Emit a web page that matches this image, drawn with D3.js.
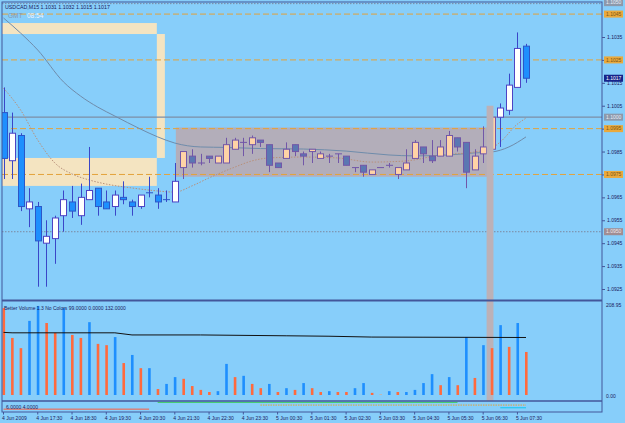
<!DOCTYPE html>
<html>
<head>
<meta charset="utf-8">
<script src="https://cdn.jsdelivr.net/npm/d3@7"></script>
<style>
  html, body { margin: 0; padding: 0; background: #87cefa; }
  svg { display: block; }
  text { font-family: "Liberation Sans", Arial, sans-serif; font-size: 5px; fill: #1b2060; }
</style>
</head>
<body>
<div id="chart"></div>
<script>
// USDCAD M15 candles, bar 0 = 4 Jun 2009 16:30
var opens = [
  1.1002,1.0981,1.0992,1.0960,1.0961,1.0945,1.0947,1.0957,1.0963,1.0957,
  1.0964,1.0969,1.0963,1.0961,1.0965,1.0963,1.0961,1.0967,1.0966,1.0964,
  1.0963,1.0978,1.0983,1.0980,1.0983,1.0980,1.0980,1.0986,1.0989,1.0988,
  1.0990,1.0988,1.0980,1.0982,1.0988,1.0984,1.0985,1.0982,1.0983,1.0984,
  1.0983,1.0978,1.0979,1.0975,1.0978,1.0979,1.0975,1.0977,1.0982,1.0987,
  1.0983,1.0983,1.0983,1.0991,1.0989,1.0977,1.0984,1.0986,1.1000,1.1003,
  1.1013,1.1031];
var highs = [
  1.1013,1.1002,1.0993,1.0969,1.0963,1.0955,1.0957,1.0968,1.0970,1.0971,
  1.0987,1.0969,1.0968,1.0968,1.0972,1.0964,1.0966,1.0974,1.0969,1.0968,
  1.0980,1.0985,1.0986,1.0984,1.0983,1.0983,1.0991,1.0991,1.0991,1.0992,
  1.0990,1.0988,1.0980,1.0989,1.0988,1.0985,1.0986,1.0985,1.0984,1.0984,
  1.0983,1.0978,1.0979,1.0977,1.0978,1.0980,1.0978,1.0986,1.0990,1.0987,
  1.0990,1.0990,1.0994,1.0991,1.0989,1.0986,1.0996,1.1000,1.1006,1.1019,
  1.1037,1.1032];
var lows = [
  1.0973,1.0973,1.0959,1.0952,1.0926,1.0926,1.0936,1.0950,1.0956,1.0953,
  1.0964,1.0957,1.0960,1.0957,1.0962,1.0957,1.0960,1.0965,1.0960,1.0963,
  1.0963,1.0973,1.0978,1.0979,1.0980,1.0980,1.0980,1.0986,1.0983,1.0984,
  1.0987,1.0976,1.0978,1.0982,1.0983,1.0979,1.0980,1.0982,1.0980,1.0980,
  1.0979,1.0976,1.0974,1.0975,1.0978,1.0978,1.0973,1.0977,1.0982,1.0980,
  1.0980,1.0983,1.0983,1.0985,1.0969,1.0977,1.0980,1.0984,1.0987,1.1001,
  1.1013,1.1015];
var closes = [
  1.0982,1.0993,1.0961,1.0963,1.0946,1.0948,1.0956,1.0964,1.0959,1.0965,
  1.0968,1.0961,1.0960,1.0966,1.0964,1.0961,1.0966,1.0967,1.0963,1.0964,
  1.0972,1.0985,1.0980,1.0980,1.0982,1.0983,1.0988,1.0990,1.0989,1.0991,
  1.0989,1.0979,1.0978,1.0986,1.0985,1.0983,1.0986,1.0984,1.0983,1.0984,
  1.0979,1.0978,1.0976,1.0977,1.0978,1.0979,1.0978,1.0980,1.0989,1.0984,
  1.0981,1.0987,1.0992,1.0987,1.0976,1.0983,1.0987,1.1000,1.1004,1.1014,
  1.1030,1.1017];

// Better Volume histogram
var volumes = [
  204,134,110,174,209,169,146,204,141,134,
  171,120,117,136,75,94,63,63,14,26,
  42,38,21,12,7,9,73,42,45,26,
  16,26,7,16,12,28,16,7,9,7,
  7,16,28,5,2,9,7,7,12,28,
  49,23,42,23,136,40,117,110,164,113,
  169,101];
var volKinds = [
  "o","o","o","b","b","o","o","b","o","o",
  "b","o","o","b","o","b","o","b","o","b",
  "b","o","o","o","o","b","b","o","b","o",
  "o","b","o","b","o","b","o","o","b","o",
  "o","b","b","o","g","b","o","b","b","b",
  "b","o","b","o","b","o","b","o","b","o",
  "b","o"];
var volMaBars = [0, 1, 13, 15, 23, 33, 38, 43, 61];
var volMaVals = [147, 146, 146, 141, 141, 139, 138, 136, 135];

// moving averages on price (read at a few bars)
var slowMaBars = [0, 2, 4, 7, 9, 11, 13, 16, 18, 20, 23, 26, 30, 35, 40, 45, 48, 52, 55, 57, 59, 61];
var slowMaVals = [1.10433, 1.10367, 1.10293, 1.10154, 1.10092, 1.10044, 1.10005, 1.09948, 1.09914, 1.09887,
                  1.09870, 1.09868, 1.09863, 1.09861, 1.09852, 1.09835, 1.09831, 1.09835, 1.09844, 1.09848,
                  1.09870, 1.09914];
var fastMaBars = [0, 2, 4, 6, 8, 10, 12, 15, 18, 20, 22, 24, 27, 29, 31, 35, 39, 43, 47, 51, 55, 57, 58, 60, 61];
var fastMaVals = [1.10127, 1.10031, 1.09900, 1.09800, 1.09752, 1.09726, 1.09708, 1.09691, 1.09678, 1.09673,
                  1.09700, 1.09735, 1.09782, 1.09809, 1.09822, 1.09826, 1.09822, 1.09804, 1.09809, 1.09835,
                  1.09848, 1.09865, 1.09892, 1.09970, 1.09996];

// levels and objects
var orangeLevels = [1.1045, 1.1025, 1.0995, 1.0975];
var grayLevel = 1.1000, grayDotLevel = 1.0950, topDotLevel = 1.1050;
var lastPrice = 1.1017;
var priceTicks = [1.1035, 1.1025, 1.1015, 1.1005, 1.0995, 1.0985, 1.0975, 1.0965, 1.0955, 1.0945, 1.0935, 1.0925];
var beigeZones = [
  {from: -1, to: 17.9, hi: 1.10411, lo: 1.10363},
  {from: 17.9, to: 18.84, hi: 1.10363, lo: 1.09822},
  {from: -1, to: 17.9, hi: 1.09822, lo: 1.09700}];
var grayZone = {from: 20.12, to: 56.5, hi: 1.09955, lo: 1.0974};
var band = {from: 56.4, to: 57.2, hi: 1.1005};

// time axis
var timeBars = [0, 4, 8, 12, 16, 20, 24, 28, 32, 36, 40, 44, 48, 52, 56, 60];
var timeLabels = ["4 Jun 2009", "4 Jun 17:30", "4 Jun 18:30", "4 Jun 19:30", "4 Jun 20:30", "4 Jun 21:30",
                  "4 Jun 22:30", "4 Jun 23:30", "5 Jun 00:30", "5 Jun 01:30", "5 Jun 02:30", "5 Jun 03:30",
                  "5 Jun 04:30", "5 Jun 05:30", "5 Jun 06:30", "5 Jun 07:30"];

// third small window lines
var subLines = [
  {from: 0, to: 17, level: 1, color: "#ff5a3c", dash: null},
  {from: 18, to: 53, level: 6, color: "#3ccc5a", dash: null},
  {from: 30, to: 61, level: 4, color: "#e8a030", dash: "1.5,1"},
  {from: 58, to: 61, level: 2, color: "#10c8f0", dash: null}];

var width = 625, height = 423;
var left = 2, right = 602, mainTop = 2, mainBot = 300, volTop = 301, volBot = 401, subBot = 412;

var svg = d3.select("#chart").append("svg")
    .attr("width", width)
    .attr("height", height);

svg.append("rect").attr("width", width).attr("height", height).attr("fill", "#87cefa");

var x = d3.scaleLinear().domain([0, 61]).range([3.5, 526]);
var y = d3.scaleLinear().domain([1.0925, 1.1035]).range([289, 37]);
var yv = d3.scaleLinear().domain([0, 208.95]).range([395, 306]);
var ys = d3.scaleLinear().domain([0, 7]).range([410.5, 401]);

var defs = svg.append("defs");
defs.append("clipPath").attr("id", "clipMain").append("rect")
    .attr("x", left).attr("y", mainTop).attr("width", right - left).attr("height", mainBot - mainTop);
defs.append("clipPath").attr("id", "clipAll").append("rect")
    .attr("x", left).attr("y", mainTop).attr("width", right - left).attr("height", volBot - mainTop);

var main = svg.append("g").attr("clip-path", "url(#clipMain)");

// beige rectangles
main.selectAll(".beige").data(beigeZones).enter().append("rect")
    .attr("class", "beige")
    .attr("x", function(d) { return x(d.from); })
    .attr("width", function(d) { return x(d.to) - x(d.from); })
    .attr("y", function(d) { return y(d.hi); })
    .attr("height", function(d) { return y(d.lo) - y(d.hi); })
    .attr("fill", "#f4e4c1");

// gray zone
main.append("rect")
    .attr("x", x(grayZone.from)).attr("width", x(grayZone.to) - x(grayZone.from))
    .attr("y", y(grayZone.hi)).attr("height", y(grayZone.lo) - y(grayZone.hi))
    .attr("fill", "#b3aeba");

// vertical band (main + volume)
svg.append("g").attr("clip-path", "url(#clipAll)").append("rect")
    .attr("x", x(band.from)).attr("width", x(band.to) - x(band.from))
    .attr("y", y(band.hi)).attr("height", volBot - y(band.hi))
    .attr("fill", "#bcb1b7");

// horizontal levels
main.append("line").attr("x1", left).attr("x2", right)
    .attr("y1", y(grayLevel)).attr("y2", y(grayLevel))
    .attr("stroke", "#7d8ea6").attr("stroke-width", 1.2);
main.append("line").attr("x1", left).attr("x2", right)
    .attr("y1", y(grayDotLevel)).attr("y2", y(grayDotLevel))
    .attr("stroke", "#7b8aa0").attr("stroke-dasharray", "1.5,1.5");
main.append("line").attr("x1", left).attr("x2", right)
    .attr("y1", y(topDotLevel) + 1).attr("y2", y(topDotLevel) + 1)
    .attr("stroke", "#7b8aa0").attr("stroke-dasharray", "1.5,1.5");
main.selectAll(".olev").data(orangeLevels).enter().append("line")
    .attr("class", "olev")
    .attr("x1", left).attr("x2", right)
    .attr("y1", function(d) { return y(d); }).attr("y2", function(d) { return y(d); })
    .attr("stroke", "#e3a23a").attr("stroke-dasharray", "6,3");

// moving averages
var slowLine = d3.line().curve(d3.curveMonotoneX)
    .x(function(d, i) { return x(slowMaBars[i]); })
    .y(function(d) { return y(d); });
main.append("path").attr("d", slowLine(slowMaVals))
    .attr("fill", "none").attr("stroke", "#6f8cab").attr("stroke-width", 1);

var fastLine = d3.line().curve(d3.curveMonotoneX)
    .x(function(d, i) { return x(fastMaBars[i]); })
    .y(function(d) { return y(d); });
main.append("path").attr("d", fastLine(fastMaVals))
    .attr("fill", "none").attr("stroke", "#b8907a").attr("stroke-width", 1)
    .attr("stroke-dasharray", "1.5,1.5");

// candles
var candles = d3.range(opens.length).map(function(i) {
    return {i: i, o: opens[i], h: highs[i], l: lows[i], c: closes[i]};
});
function inZone(d) {
    return (d.i >= grayZone.from && d.i <= grayZone.to) || (d.i >= band.from && d.i <= band.to);
}
var cg = main.selectAll(".candle").data(candles).enter().append("g").attr("class", "candle");
cg.append("line")
    .attr("x1", function(d) { return Math.round(x(d.i)) + 0.5; })
    .attr("x2", function(d) { return Math.round(x(d.i)) + 0.5; })
    .attr("y1", function(d) { return y(d.h); })
    .attr("y2", function(d) { return y(d.l); })
    .attr("stroke", function(d) { return inZone(d) ? "#7257a8" : "#3a46c8"; })
    .attr("stroke-width", 1);
cg.append("rect")
    .attr("x", function(d) { return Math.round(x(d.i)) - 2.5; })
    .attr("width", 6)
    .attr("y", function(d) { return y(Math.max(d.o, d.c)); })
    .attr("height", function(d) { return Math.max(0.01, Math.abs(y(d.o) - y(d.c))); })
    .attr("fill", function(d) {
        if (inZone(d)) return d.c > d.o ? "#ffd3a6" : "#5b77b2";
        return d.c > d.o ? "#ffffff" : "#1e8ffe";
    })
    .attr("stroke", function(d) {
        if (inZone(d)) return "#7257a8";
        return d.c > d.o ? "#4d43c4" : "#2b57c8";
    })
    .attr("stroke-width", 1);

// volume window
var vol = svg.append("g");
vol.selectAll(".vbar").data(volumes).enter().append("rect")
    .attr("class", "vbar")
    .attr("x", function(d, i) { return x(i) - 1; })
    .attr("width", 2.6)
    .attr("y", function(d) { return yv(d); })
    .attr("height", function(d) { return yv(0) - yv(d); })
    .attr("fill", function(d, i) {
        var k = volKinds[i];
        return k === "b" ? "#1e8ffe" : (k === "o" ? "#ff6a3d" : "#c8b4a8");
    });
var volMaLine = d3.line()
    .x(function(d, i) { return x(volMaBars[i]); })
    .y(function(d) { return yv(d); });
vol.append("path").attr("d", volMaLine(volMaVals))
    .attr("fill", "none").attr("stroke", "#111111").attr("stroke-width", 1);

// third window
var sub = svg.append("g");
subLines.forEach(function(s) {
    sub.append("line")
        .attr("x1", x(s.from)).attr("x2", x(s.to))
        .attr("y1", ys(s.level)).attr("y2", ys(s.level))
        .attr("stroke", s.color).attr("stroke-width", 1)
        .attr("stroke-dasharray", s.dash);
});

// frames
var frameColor = "#43569a";
svg.append("rect").attr("x", left).attr("y", mainTop)
    .attr("width", right - left).attr("height", subBot - mainTop)
    .attr("fill", "none").attr("stroke", frameColor).attr("stroke-width", 1);
svg.append("line").attr("x1", left).attr("x2", right).attr("y1", volTop - 0.5).attr("y2", volTop - 0.5)
    .attr("stroke", frameColor).attr("stroke-width", 2);
svg.append("line").attr("x1", left).attr("x2", right).attr("y1", volBot).attr("y2", volBot)
    .attr("stroke", frameColor).attr("stroke-width", 1.5);

// price axis
var yAxis = d3.axisRight(y).tickValues(priceTicks).tickFormat(d3.format(".4f")).tickSize(3).tickPadding(2);
var ax = svg.append("g").attr("transform", "translate(" + right + ",0)").call(yAxis);
ax.select(".domain").remove();
ax.selectAll("line").attr("stroke", frameColor);
ax.selectAll("text").attr("font-size", 5).attr("fill", "#1b2060").attr("font-family", null);

function priceBox(v, fill, txt) {
    var g = svg.append("g").attr("transform", "translate(" + (right + 2) + "," + y(v) + ")");
    g.append("rect").attr("x", 0).attr("y", -3.5).attr("width", 19).attr("height", 7).attr("fill", fill);
    g.append("text").attr("x", 2).attr("dy", "0.35em").style("fill", txt).text(d3.format(".4f")(v));
}
orangeLevels.forEach(function(v) { priceBox(v, "#eaa93c", "#7a5516"); });
priceBox(grayLevel, "#8d99ab", "#e8eef8");
priceBox(grayDotLevel, "#a08d93", "#f0e8ea");
priceBox(topDotLevel, "#8d99ab", "#e8eef8");
priceBox(lastPrice, "#16248a", "#ffffff");

// volume axis labels
svg.append("text").attr("x", right + 4).attr("y", yv(208.95) + 1).text("208.95");
svg.append("text").attr("x", right + 4).attr("y", 398).text("0.00");

// time axis
svg.selectAll(".tlab").data(timeLabels).enter().append("text")
    .attr("class", "tlab")
    .attr("x", function(d, i) { return x(timeBars[i]) - 1.5; })
    .attr("y", 420)
    .text(function(d) { return d; });
svg.selectAll(".ttick").data(timeBars).enter().append("line")
    .attr("class", "ttick")
    .attr("x1", function(d) { return x(d); }).attr("x2", function(d) { return x(d); })
    .attr("y1", subBot).attr("y2", subBot + 2.5)
    .attr("stroke", frameColor);

// titles
svg.append("text").attr("x", 5).attr("y", 8.5).style("font-size", "5.3px")
    .text("USDCAD,M15  1.1031 1.1032 1.1015 1.1017");
svg.append("text").attr("x", 8).attr("y", 17.5).style("font-size", "6.5px").style("fill", "#8696ad").text("GMT");
svg.append("text").attr("x", 27).attr("y", 17.5).style("font-size", "6.5px").style("fill", "#eef4ff").text("08:54");
svg.append("text").attr("x", 4).attr("y", 310)
    .text("Better Volume 1.3 No Colors 99.0000 0.0000 132.0000");
svg.append("text").attr("x", 6).attr("y", 408.5).text("6.0000 4.0000");
</script>
</body>
</html>
